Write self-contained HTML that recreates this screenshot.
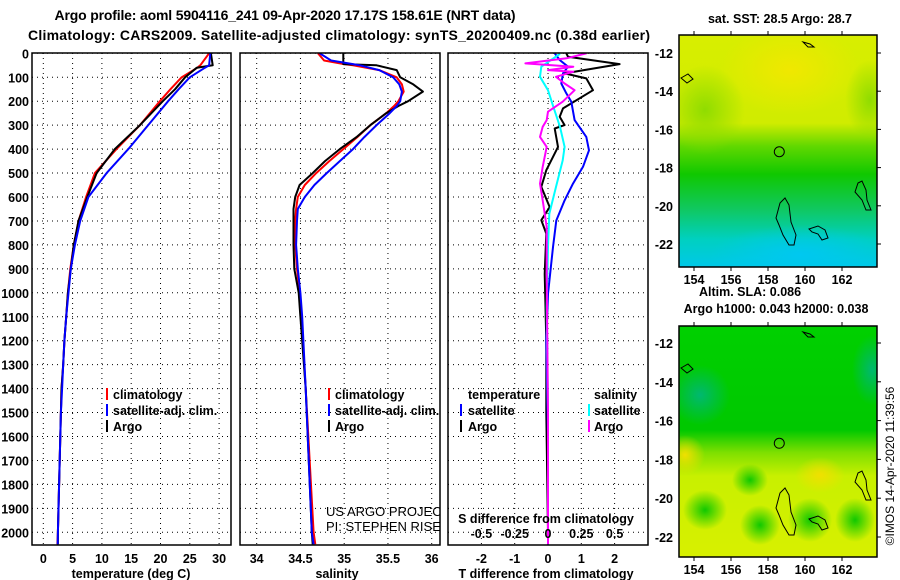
<!DOCTYPE html>
<html><head><meta charset="utf-8"><style>
html,body{margin:0;padding:0;background:#fff;}
svg{display:block;font-family:"Liberation Sans",Arial,sans-serif;}
.b{font-weight:bold;font-size:12.5px;fill:#000;}
.t{font-weight:bold;font-size:14px;fill:#000;}
.grid{stroke:#000;stroke-width:1;stroke-dasharray:1,4;fill:none;}
.frame{stroke:#000;stroke-width:1.5;fill:none;}
.ln{fill:none;stroke-width:2;stroke-linejoin:round;}
</style></head><body>
<svg id="chart" width="900" height="580" viewBox="0 0 900 580" xmlns="http://www.w3.org/2000/svg">
<defs>
<clipPath id="c1"><rect x="32" y="53" width="199" height="492"/></clipPath>
<clipPath id="c2"><rect x="240" y="53" width="200" height="492"/></clipPath>
<clipPath id="c3"><rect x="448" y="53" width="200" height="492"/></clipPath>
<clipPath id="cm1"><rect x="679" y="35" width="198" height="232"/></clipPath>
<clipPath id="cm2"><rect x="679" y="326" width="198" height="231"/></clipPath>
<linearGradient id="g1" x1="0" y1="0" x2="0" y2="1">
<stop offset="0" stop-color="#d8ee00"/><stop offset="0.38" stop-color="#d0ec00"/>
<stop offset="0.48" stop-color="#60d800"/><stop offset="0.6" stop-color="#10c800"/>
<stop offset="0.75" stop-color="#10c860"/><stop offset="0.88" stop-color="#00d0c0"/>
<stop offset="1" stop-color="#00c8e8"/></linearGradient>
<radialGradient id="ry"><stop offset="0" stop-color="#f0e800"/><stop offset="1" stop-color="#f0e800" stop-opacity="0"/></radialGradient>
<radialGradient id="rg"><stop offset="0" stop-color="#90dc00"/><stop offset="1" stop-color="#90dc00" stop-opacity="0"/></radialGradient>
<radialGradient id="rc"><stop offset="0" stop-color="#00c8f0"/><stop offset="1" stop-color="#00c8f0" stop-opacity="0"/></radialGradient>
<linearGradient id="g2" x1="0" y1="0" x2="0" y2="1">
<stop offset="0" stop-color="#00d000"/><stop offset="0.45" stop-color="#00c800"/>
<stop offset="0.55" stop-color="#80e000"/><stop offset="0.65" stop-color="#c8f000"/>
<stop offset="1" stop-color="#d8f000"/></linearGradient>
<radialGradient id="rd"><stop offset="0" stop-color="#00b870"/><stop offset="1" stop-color="#00b870" stop-opacity="0"/></radialGradient>
<radialGradient id="rgg"><stop offset="0" stop-color="#10c800"/><stop offset="1" stop-color="#10c800" stop-opacity="0"/></radialGradient>
<radialGradient id="ro"><stop offset="0" stop-color="#f0e000"/><stop offset="1" stop-color="#f0e000" stop-opacity="0"/></radialGradient>
</defs>

<text class="t" x="285" y="20" text-anchor="middle" textLength="461">Argo profile: aoml 5904116_241 09-Apr-2020 17.17S 158.61E (NRT data)</text>
<text class="t" x="339" y="40" text-anchor="middle" textLength="622">Climatology: CARS2009. Satellite-adjusted climatology: synTS_20200409.nc (0.38d earlier)</text>

<g id="grids"></g>
<g id="lines"></g>
<g id="labels"></g>

<rect class="frame" x="32" y="53" width="199" height="492"/>
<rect class="frame" x="240" y="53" width="200" height="492"/>
<rect class="frame" x="448" y="53" width="200" height="492"/>

<text class="b" x="131" y="578" text-anchor="middle">temperature (deg C)</text>
<text class="b" x="337" y="578" text-anchor="middle">salinity</text>
<text class="b" x="546" y="578" text-anchor="middle">T difference from climatology</text>
<text class="b" x="546" y="523" text-anchor="middle">S difference from climatology</text>
<text x="326" y="516" font-size="13" clip-path="url(#c2)">US ARGO PROJECT</text>
<text x="326" y="531" font-size="13" clip-path="url(#c2)">PI: STEPHEN RISER</text>

<g>
<line x1="107" y1="388" x2="107" y2="400" stroke="#f00" stroke-width="2"/><text class="b" x="113" y="399">climatology</text>
<line x1="107" y1="404" x2="107" y2="416" stroke="#00f" stroke-width="2"/><text class="b" x="113" y="415">satellite-adj. clim.</text>
<line x1="107" y1="420" x2="107" y2="432" stroke="#000" stroke-width="2"/><text class="b" x="113" y="431">Argo</text>
</g>
<g clip-path="url(#c2)">
<line x1="329" y1="388" x2="329" y2="400" stroke="#f00" stroke-width="2"/><text class="b" x="335" y="399">climatology</text>
<line x1="329" y1="404" x2="329" y2="416" stroke="#00f" stroke-width="2"/><text class="b" x="335" y="415">satellite-adj. clim.</text>
<line x1="329" y1="420" x2="329" y2="432" stroke="#000" stroke-width="2"/><text class="b" x="335" y="431">Argo</text>
</g>
<g>
<text class="b" x="468" y="399">temperature</text>
<line x1="461" y1="404" x2="461" y2="416" stroke="#00f" stroke-width="2"/><text class="b" x="468" y="415">satellite</text>
<line x1="461" y1="420" x2="461" y2="432" stroke="#000" stroke-width="2"/><text class="b" x="468" y="431">Argo</text>
<text class="b" x="594" y="399">salinity</text>
<line x1="589" y1="404" x2="589" y2="416" stroke="#0ff" stroke-width="2"/><text class="b" x="594" y="415">satellite</text>
<line x1="589" y1="420" x2="589" y2="432" stroke="#f0f" stroke-width="2"/><text class="b" x="594" y="431">Argo</text>
</g>

<text class="b" x="780" y="23" text-anchor="middle">sat. SST: 28.5 Argo: 28.7</text>
<g clip-path="url(#cm1)">
<rect x="679" y="35" width="198" height="232" fill="url(#g1)"/>
<ellipse cx="790" cy="70" rx="70" ry="45" fill="url(#ry)"/>
<ellipse cx="705" cy="110" rx="40" ry="45" fill="url(#rg)"/>
<ellipse cx="870" cy="100" rx="25" ry="40" fill="url(#rg)"/>
<ellipse cx="800" cy="255" rx="90" ry="30" fill="url(#rc)"/>
</g>
<rect class="frame" x="679" y="35" width="198" height="232" fill="none"/>
<text class="b" x="750" y="296" text-anchor="middle">Altim. SLA: 0.086</text>
<text class="b" x="776" y="313" text-anchor="middle">Argo h1000: 0.043 h2000: 0.038</text>
<g clip-path="url(#cm2)">
<rect x="679" y="326" width="198" height="231" fill="url(#g2)"/>
<ellipse cx="700" cy="395" rx="30" ry="30" fill="url(#rd)"/>
<ellipse cx="872" cy="370" rx="20" ry="35" fill="url(#rd)"/>
<ellipse cx="750" cy="480" rx="18" ry="16" fill="url(#rgg)"/>
<ellipse cx="705" cy="510" rx="22" ry="20" fill="url(#rgg)"/>
<ellipse cx="760" cy="525" rx="20" ry="20" fill="url(#rgg)"/>
<ellipse cx="810" cy="520" rx="22" ry="22" fill="url(#rgg)"/>
<ellipse cx="855" cy="520" rx="20" ry="22" fill="url(#rgg)"/>
<ellipse cx="820" cy="475" rx="25" ry="18" fill="url(#ro)"/>
<ellipse cx="685" cy="455" rx="20" ry="20" fill="url(#ro)"/>
</g>
<rect class="frame" x="679" y="326" width="198" height="231" fill="none"/>
<g id="maps"></g>
<text x="894" y="466" font-size="12" text-anchor="middle" transform="rotate(-90 894 466)">©IMOS 14-Apr-2020 11:39:56</text>
</svg>
<script>
const depthTicks=[0,100,200,300,400,500,600,700,800,900,1000,1100,1200,1300,1400,1500,1600,1700,1800,1900,2000];
const tempTicks=[0,5,10,15,20,25,30];
const salTicks=[34,34.5,35,35.5,36];
const salTickLabels=["34","34.5","35","35.5","36"];
const tdiffTicks=[-2,-1,0,1,2];
const sdiffTicks=[-0.5,-0.25,0,0.25,0.5];
const sdiffLabels=["-0.5","-0.25","0","0.25","0.5"];
const tempDepth=[0,50,60,100,150,200,300,400,500,600,700,800,900,1000,1100,1200,1300,1400,1500,1600,1700,1800,1900,2000,2050];
const tempArgo=[28.6,28.9,26.2,24.2,22.5,20.4,16.5,12.2,9.1,7.5,6.0,5.2,4.7,4.2,3.9,3.6,3.4,3.1,3.0,2.9,2.8,2.7,2.6,2.5,2.5];
const tempSat=[28.5,28.3,27.6,25.0,23.1,21.3,17.9,14.5,10.8,7.7,6.3,5.4,4.7,4.3,3.9,3.6,3.4,3.2,3.0,2.9,2.8,2.7,2.6,2.5,2.45];
const tempClim=[28.3,26.8,26.3,23.6,21.7,19.9,16.5,12.5,8.8,7.3,6.0,5.2,4.6,4.2,3.9,3.6,3.4,3.1,3.0,2.9,2.8,2.7,2.6,2.5,2.4];
const salDepth=[0,30,45,50,70,100,130,160,200,220,250,300,350,400,450,500,550,600,650,700,800,900,1000,1100,1400,2000,2050];
const salArgo=[34.99,34.99,34.99,35.37,35.6,35.64,35.79,35.9,35.73,35.62,35.48,35.3,35.14,34.95,34.78,34.64,34.49,34.44,34.42,34.42,34.42,34.43,34.48,34.5,34.56,34.63,34.64];
const salSat=[34.72,34.85,35.1,35.18,35.4,35.56,35.63,35.66,35.64,35.6,35.52,35.37,35.23,35.1,34.95,34.8,34.66,34.55,34.47,34.46,34.45,34.47,34.5,34.52,34.56,34.63,34.65];
const salClim=[34.7,34.77,35.0,35.1,35.4,35.6,35.66,35.68,35.62,35.57,35.48,35.3,35.15,34.99,34.83,34.68,34.55,34.47,34.45,34.44,34.44,34.46,34.49,34.51,34.56,34.65,34.67];
const tdArgoDepth=[0,14,45,84,105,154,230,265,300,314,391,488,558,642,697,753,921,1200,1500,2000,2050];
const tdArgo=[0.55,0.6,2.15,0.5,1.15,1.35,0.45,0.35,0.5,0.2,0.3,-0.05,-0.2,0.05,-0.2,-0.05,-0.1,-0.05,-0.05,0,0];
const tdSatDepth=[0,28,56,84,126,167,202,279,349,405,474,544,614,698,809,1004,1200,1600,2050];
const tdSat=[0.2,0.35,0.6,0.45,0.4,0.55,0.7,0.8,1.15,1.23,1.05,0.75,0.5,0.25,0.15,0,-0.05,0,0];
const sdSatDepth=[2,56,98,154,223,307,391,447,558,670,809,1060,1500,2050];
const sdSat=[0.09,-0.05,-0.06,0,0.04,0.09,0.125,0.11,0.06,0.01,0,-0.01,0,0];
const sdArgoDepth=[0,21,42,56,70,77,98,126,154,202,244,279,307,349,391,474,544,614,725,921,1500,2050];
const sdArgo=[0.29,0.14,-0.17,0.19,0,0.19,0.06,0.125,0.2,0.11,0,-0.01,-0.04,-0.06,-0.01,-0.04,-0.06,-0.04,-0.01,-0.01,0,0];
const lonTicks=[154,156,158,160,162];
const latTicks=[-12,-14,-16,-18,-20,-22];

const NS="http://www.w3.org/2000/svg";
const yD=d=>53.3+d*0.2395;
const xT=v=>43.3+v*5.86;
const xS=v=>256.7+(v-34)*87.5;
const xTD=v=>548+v*33.3;
const xSD=v=>548+v*133.2;
const lonX=l=>694+(l-154)*18.5;
const latY1=l=>53+(-12-l)*19.1;
const latY2=l=>343+(-12-l)*19.4;

function mk(tag,attrs,parent){const e=document.createElementNS(NS,tag);for(const k in attrs)e.setAttribute(k,attrs[k]);parent.appendChild(e);return e;}
const G=document.getElementById('grids'),L=document.getElementById('lines'),T=document.getElementById('labels');
const panels=[[32,231,tempTicks,xT],[240,440,salTicks,xS],[448,648,tdiffTicks,xTD]];
panels.forEach(([a,b,ticks,fx])=>{
  depthTicks.forEach(d=>{const l=mk('line',{x1:a,x2:b,y1:yD(d),y2:yD(d),class:'grid'},G);
    
    });
  ticks.forEach(v=>{const l=mk('line',{x1:fx(v),x2:fx(v),y1:53,y2:545,class:'grid'},G);
    
    });
});
depthTicks.forEach(d=>{const t=mk('text',{x:29,y:yD(d)+5,class:'b','text-anchor':'end'},T);t.textContent=d;
  
  });
tempTicks.forEach(v=>{const t=mk('text',{x:xT(v),y:563,class:'b','text-anchor':'middle'},T);t.textContent=v;
  
  });
salTicks.forEach((v,i)=>{const t=mk('text',{x:xS(v),y:563,class:'b','text-anchor':'middle'},T);t.textContent=salTickLabels[i];
  
  });
tdiffTicks.forEach(v=>{const t=mk('text',{x:xTD(v),y:563,class:'b','text-anchor':'middle'},T);t.textContent=v;
  
  });
sdiffTicks.forEach((v,i)=>{const t=mk('text',{x:xSD(v),y:538,class:'b','text-anchor':'middle'},T);t.textContent=sdiffLabels[i];
  
  });

function line(depths,vals,fx,color,clip,name){
  const pts=depths.map((d,i)=>fx(vals[i]).toFixed(1)+','+yD(d).toFixed(1)).join(' ');
  const p=mk('polyline',{points:pts,class:'ln',stroke:color,'clip-path':'url(#'+clip+')'},L);
  
  
}
line(tempDepth,tempClim,xT,'#f00','c1','temp-climatology-line');
line(tempDepth,tempArgo,xT,'#000','c1','temp-argo-line');
line(tempDepth,tempSat,xT,'#00f','c1','temp-satellite-line');
line(salDepth,salClim,xS,'#f00','c2','salinity-climatology-line');
line(salDepth,salArgo,xS,'#000','c2','salinity-argo-line');
line(salDepth,salSat,xS,'#00f','c2','salinity-satellite-line');
line(tdArgoDepth,tdArgo,xTD,'#000','c3','t-diff-argo-line');
line(tdSatDepth,tdSat,xTD,'#00f','c3','t-diff-satellite-line');
line(sdSatDepth,sdSat,xSD,'#0ff','c3','s-diff-satellite-line');
line(sdArgoDepth,sdArgo,xSD,'#f0f','c3','s-diff-argo-line');

const M=document.getElementById('maps');
[[latY1,35,267,284],[latY2,326,557,574]].forEach(([fy,top,bot,ly],mi)=>{
  lonTicks.forEach(l=>{const t=mk('text',{x:lonX(l),y:ly,class:'b','text-anchor':'middle'},M);t.textContent=l;
    
    
    mk('line',{x1:lonX(l),x2:lonX(l),y1:top,y2:top-4,stroke:'#000'},M);
    mk('line',{x1:lonX(l),x2:lonX(l),y1:bot,y2:bot+4,stroke:'#000'},M);});
  latTicks.forEach(l=>{const t=mk('text',{x:673,y:fy(l)+5,class:'b','text-anchor':'end'},M);t.textContent=l;
    
    
    mk('line',{x1:877,x2:881,y1:fy(l),y2:fy(l),stroke:'#000'},M);});
  const off=mi?290:0;
  const isl=["776,218 780,203 785,198 789,205 791,222 796,235 794,245 789,245 783,235 779,225","809,229 818,226 825,230 828,238 822,240 818,234 812,232","858,183 862,181 866,190 867,200 871,210 866,210 862,200 855,192","681,78 688,74 693,79 687,83","803,42 810,44 814,47 808,47"];
  isl.forEach(s=>{const pts=s.split(' ').map(p=>{const [a,b]=p.split(',');return a+','+(+b+off);}).join(' ');
    const p=mk('polygon',{points:pts,fill:'none',stroke:'#000','stroke-width':1},M);
    
    });
  const c=mk('circle',{cx:lonX(158.61),cy:fy(-17.17),r:5,fill:'none',stroke:'#000'},M);
  
  
});
</script>
</body></html>
